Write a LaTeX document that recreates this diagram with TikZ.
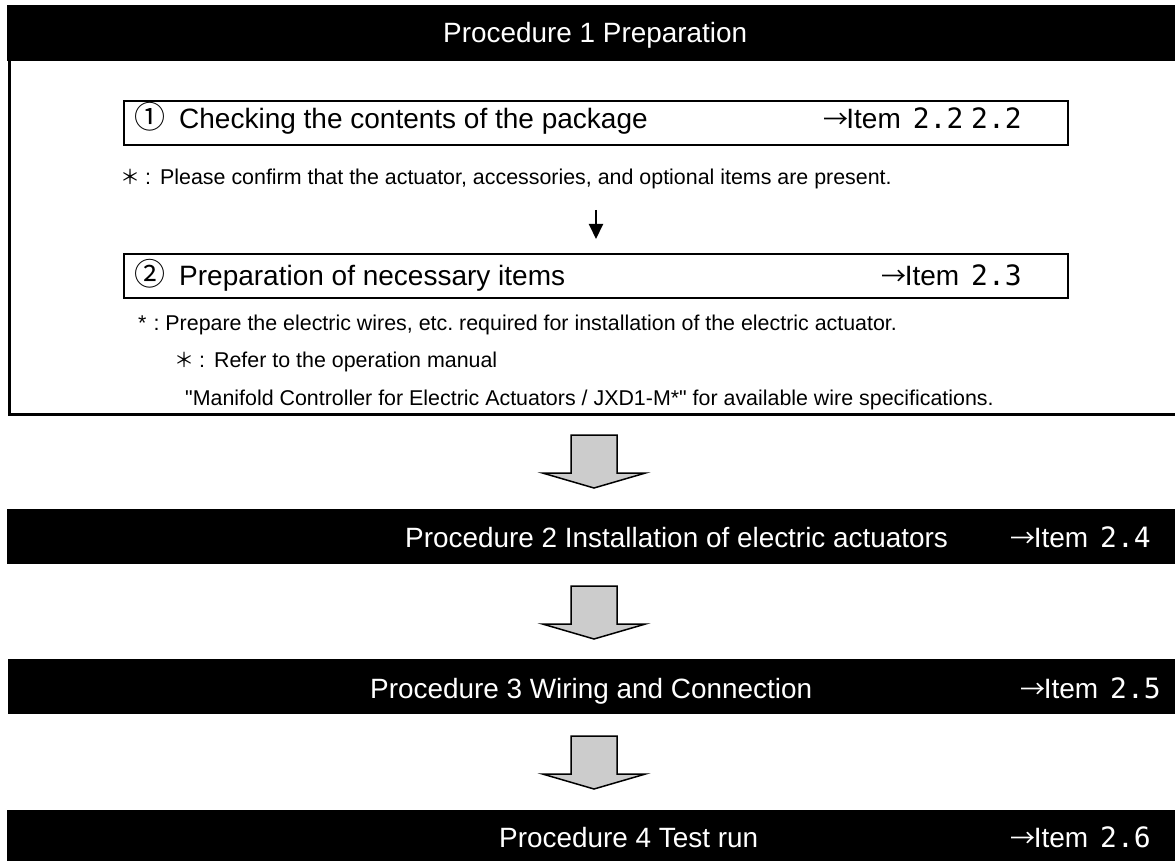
\documentclass[tikz,border=0pt]{standalone}
\usepackage{fontspec}
\setmainfont{Liberation Sans}
\newfontfamily\cjkfont{Noto Sans CJK JP}
\newfontfamily\digitfont{DejaVu Sans Mono}
\usepackage{tikz}
\usetikzlibrary{arrows.meta}
\usetikzlibrary{positioning}
\frenchspacing
\tikzset{
stage bar/.style = { rectangle, draw = none, fill = black, anchor = north west, minimum width = 1200pt, inner sep = 0pt },
stage text/.style = { white, anchor = base west, inner sep = 0pt, font = \fontsize{27.9}{30}\selectfont },
stage ref/.style = { white, anchor = base east, inner sep = 0pt, font = \fontsize{28}{30}\selectfont },
stage frame/.style = { rectangle, draw = black, line width = 2.7pt, fill = white, anchor = north west, minimum width = 1200pt, inner sep = 0pt },
item box/.style = { rectangle, draw = black, line width = 2pt, fill = white, anchor = north west, minimum width = 944pt, minimum height = 44pt, inner sep = 0pt },
item text/.style = { black, anchor = base west, inner sep = 0pt, font = \fontsize{28}{30}\selectfont },
item ref/.style = { black, anchor = base east, inner sep = 0pt, font = \fontsize{28}{30}\selectfont },
note/.style = { black, anchor = base west, inner sep = 0pt, font = \fontsize{21.4}{24}\selectfont },
}
\tikzset{
pics/down block/.style = {
        code = {
        \path[draw = black, fill = black!20, line width = 1.5pt] (-23, -53) -- (23, -53) -- (23, -15) -- (51.5, -15) -- (0, 0) -- (-51.5, -15) -- (-23, -15) -- cycle;
        }
    }
}
\newcommand{\itemno}[1]{{\digitfont\fontsize{28}{30}\selectfont #1}}
\newcommand{\circno}[1]{{\cjkfont\fontsize{31}{30}\selectfont #1}}
\newcommand{\notemark}{{\cjkfont\fontsize{20}{24}\selectfont ＊}\hspace{5pt}:\hspace{9pt}}
\newcommand{\toitem}{{\cjkfont\fontsize{25}{30}\selectfont →}\hspace{-2pt}Item\hspace{12pt}}

\begin{document}
\begin{tikzpicture}[x = 1pt, y = -1pt]
    \useasboundingbox (0, 0) rectangle (1175, 861);
    \clip (0, 0) rectangle (1175, 861);
    % procedure 1
    \node[stage frame, minimum height = 355pt] (frame1) at (8.4, 58) {};
    \node[stage bar, minimum height = 56pt] (bar1) at (7, 5) {};
    \node[stage text] (title1) at (443, 43) {Procedure 1 Preparation};
    \node[item box] (box1) at (123, 100) {};
    \node[item text] (text1) at (134, 129) {\circno{①}\hspace{14pt}Checking the contents of the package};
    \node[item ref] (ref1) at (1022, 129) {\toitem\itemno{2.2} \itemno{2.2}};
    \node[note] (note1) at (120, 185) {\notemark Please confirm that the actuator, accessories, and optional items are present.};
    \node[item box] (box2) at (123, 253) {};
    \node[item text] (text2) at (134, 285) {\circno{②}\hspace{14pt}Preparation of necessary items};
    \node[item ref] (ref2) at (1022, 285) {\toitem\itemno{2.3}};
    \draw[line width = 2pt, -{Triangle[width = 14pt, length = 15pt]}] ([yshift = -64pt]box1.south) -- ([yshift = 14pt]box2.north);
    \node[note] (note2) at (138, 330) {*\hspace{7pt}:\hspace{6pt}Prepare the electric wires, etc. required for installation of the electric actuator.};
    \node[note] (note3) at (174, 367) {\notemark Refer to the operation manual};
    \node[note] (note4) at (185, 405) {\textquotedbl Manifold Controller for Electric Actuators / JXD1-M*\textquotedbl{} for available wire specifications.};
    % procedure 2
    \pic (flow1) at (594, 488) {down block};
    \node[stage bar, minimum height = 55pt] (bar2) at (7, 509) {};
    \node[stage text] (title2) at (405, 547) {Procedure 2 Installation of electric actuators};
    \node[stage ref] (ref3) at (1151, 547) {\toitem\itemno{2.4}};
    % procedure 3
    \pic (flow2) at (594, 639) {down block};
    \node[stage bar, minimum height = 55pt] (bar3) at (8, 659) {};
    \node[stage text] (title3) at (370, 698) {Procedure 3 Wiring and Connection};
    \node[stage ref] (ref4) at (1161, 698) {\toitem\itemno{2.5}};
    % procedure 4
    \pic (flow3) at (594, 789) {down block};
    \node[stage bar, minimum height = 60pt] (bar4) at (7, 810) {};
    \node[stage text] (title4) at (499, 847) {Procedure 4 Test run};
    \node[stage ref] (ref5) at (1151, 847) {\toitem\itemno{2.6}};
\end{tikzpicture}
\end{document}
